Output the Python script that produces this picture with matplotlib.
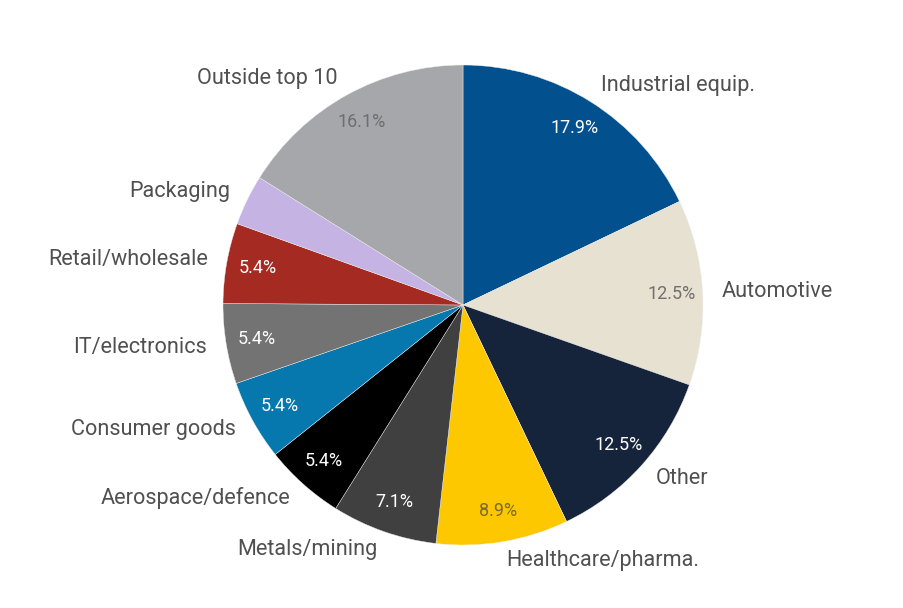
import math
import matplotlib
matplotlib.use("Agg")
import matplotlib.pyplot as plt

# Share of sample by sector (%)
sectors = [
    "Industrial equip.", "Automotive", "Other", "Healthcare/pharma.",
    "Metals/mining", "Aerospace/defence", "Consumer goods", "IT/electronics",
    "Retail/wholesale", "Packaging", "Outside top 10",
]
shares = [17.9, 12.5, 12.5, 8.9, 7.1, 5.4, 5.4, 5.4, 5.4, 3.4, 16.1]
pct_labels = ["17.9%", "12.5%", "12.5%", "8.9%", "7.1%", "5.4%", "5.4%",
              "5.4%", "5.4%", "", "16.1%"]

colors = ["#02508e", "#e6e1d1", "#15243a", "#fdc800", "#404040", "#000000",
          "#0678ad", "#737373", "#a52a21", "#c4b3e3", "#a6a7ab"]
pct_colors = ["white", "#707070", "white", "#7a6a30", "white", "white",
              "white", "white", "white", "white", "#6e6e6e"]

W, H = 904, 608
fig = plt.figure(figsize=(W / 100, H / 100), dpi=100)
ax = fig.add_axes([0, 0, 1, 1])

font = ["Roboto", "DejaVu Sans"]
radius = 240
center = (463, H - 305)

wedges, texts, autotexts = ax.pie(
    shares,
    labels=sectors,
    colors=colors,
    startangle=90,
    counterclock=False,
    radius=radius,
    center=center,
    labeldistance=1.08,
    pctdistance=0.87,
    autopct=lambda p: "",
    wedgeprops=dict(edgecolor="#f0f0f0", linewidth=0.3),
    textprops=dict(fontsize=15.6, color="#505050", family=font),
    frame=True,
)
ax.set_xlim(0, W)
ax.set_ylim(0, H)
ax.set_aspect("equal")
ax.axis("off")

# Outer labels: anchor towards the pie on each side
for w, t in zip(wedges, texts):
    mid = math.radians((w.theta1 + w.theta2) / 2)
    t.set_ha("left" if math.cos(mid) > 0 else "right")
    t.set_va("center")

for t, lab, c in zip(autotexts, pct_labels, pct_colors):
    t.set_text(lab)
    t.set_color(c)
    t.set_fontsize(13)
    t.set_family(font)

fig.savefig("out.png", dpi=100, facecolor="white")
